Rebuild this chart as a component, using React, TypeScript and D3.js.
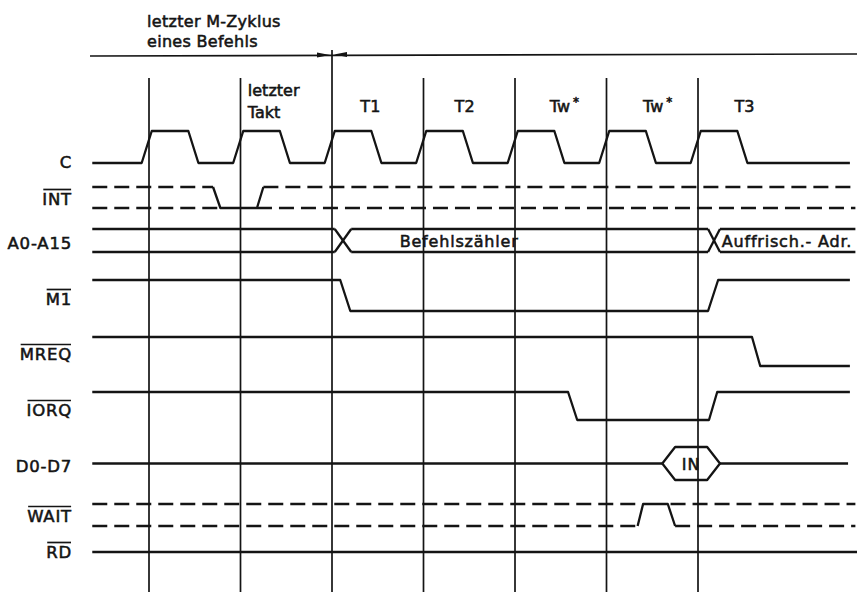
import React, { useEffect, useRef } from "react";
import * as d3 from "d3";

const width = 857;
const height = 592;

// time in clock periods, 0 = first marked clock edge
const cycleMarks = [0, 1, 2, 3, 4, 5, 6];
const cycleNames = [
  { t: 1.08, lines: ["letzter", "Takt"] },
  { t: 2.31, lines: ["T1"] },
  { t: 3.34, lines: ["T2"] },
  { t: 4.38, lines: ["Tw*"] },
  { t: 5.4, lines: ["Tw*"] },
  { t: 6.4, lines: ["T3"] },
];
const titleLines = ["letzter M-Zyklus", "eines Befehls"];

const signalNames = ["C", "INT", "A0-A15", "M1", "MREQ", "IORQ", "D0-D7", "WAIT", "RD"];
const activeLow = ["INT", "M1", "MREQ", "IORQ", "WAIT", "RD"];

// [t, level]
const clockWave = [
  [-0.62, 0], [-0.08, 0], [0.03, 1], [0.43, 1], [0.54, 0],
  [0.92, 0], [1.03, 1], [1.43, 1], [1.54, 0],
  [1.92, 0], [2.03, 1], [2.43, 1], [2.54, 0],
  [2.92, 0], [3.03, 1], [3.43, 1], [3.54, 0],
  [3.92, 0], [4.03, 1], [4.43, 1], [4.54, 0],
  [4.92, 0], [5.03, 1], [5.43, 1], [5.54, 0],
  [5.92, 0], [6.03, 1], [6.43, 1], [6.54, 0], [7.66, 0],
];
const m1Wave = [[-0.62, 1], [2.09, 1], [2.2, 0], [6.11, 0], [6.22, 1], [7.66, 1]];
const mreqWave = [[-0.62, 1], [6.59, 1], [6.68, 0], [7.66, 0]];
const iorqWave = [[-0.62, 1], [4.58, 1], [4.68, 0], [6.12, 0], [6.21, 1], [7.66, 1]];
const rdWave = [[-0.62, 1], [7.74, 1]];

// undefined (dashed) states
const intDashHigh = [[-0.62, 0.7], [1.25, 7.72]];
const intDashLow = [[-0.62, 0.78], [1.18, 7.72]];
const intSolid = [[0.7, 1], [0.78, 0], [1.18, 0], [1.25, 1]];
const waitDashHigh = [[-0.62, 5.38], [5.7, 7.72]];
const waitDashLow = [[-0.62, 5.34], [5.75, 7.72]];
const waitSolid = [[5.34, 0], [5.4, 1], [5.67, 1], [5.75, 0]];

// buses
const addrSegments = [
  { from: -0.62, to: 2.03, label: "", labelT: 0 },
  { from: 2.21, to: 6.11, label: "Befehlszähler", labelT: 2.74 },
  { from: 6.24, to: 7.72, label: "Auffrisch.- Adr.", labelT: 6.26 },
];
const dataIdle = [[-0.62, 5.61], [6.24, 7.64]];
const dataValid = [{ from: 5.61, to: 6.24, label: "IN" }];

const App = () => {
  const svgRef = useRef(null);

  useEffect(() => {
    const svg = d3.select(svgRef.current);
    svg.selectAll("*").remove();

    const ink = "#141414";
    const font = "'DejaVu Sans', sans-serif";
    const x = d3.scaleLinear().domain([0, 6]).range([149, 698]);

    // row layout: [high, low] in pixels
    const rows = {
      C: [131, 163],
      INT: [187, 208],
      "A0-A15": [229, 252],
      M1: [280, 311],
      MREQ: [337, 366],
      IORQ: [392, 420],
      "D0-D7": [447, 480],
      WAIT: [504, 526],
      RD: [552, 552],
    };
    const labelBase = {
      C: 168, INT: 205, "A0-A15": 249, M1: 305, MREQ: 360,
      IORQ: 416, "D0-D7": 472, WAIT: 522, RD: 558,
    };
    const lvl = (name) => d3.scaleLinear().domain([0, 1]).range([rows[name][1], rows[name][0]]);

    const addText = (sel) =>
      sel
        .attr("font-family", font)
        .attr("fill", ink)
        .attr("stroke", ink)
        .attr("stroke-width", 0.55);

    svg.append("rect").attr("width", width).attr("height", height).attr("fill", "#fff");

    // cycle boundaries
    svg.append("g")
      .selectAll("line")
      .data(cycleMarks)
      .join("line")
      .attr("x1", (d) => x(d))
      .attr("x2", (d) => x(d))
      .attr("y1", (d) => (d === 2 ? 50 : 78))
      .attr("y2", height)
      .attr("stroke", ink)
      .attr("stroke-width", 1.7);

    // bracket line with arrows
    svg.append("line")
      .attr("x1", 90).attr("x2", width)
      .attr("y1", 56).attr("y2", 54)
      .attr("stroke", ink).attr("stroke-width", 1.7);
    const xa = x(2);
    svg.append("path")
      .attr("d", `M${xa - 15},52.5 L${xa - 2},55 L${xa - 15},57.5 Z M${xa + 15},52 L${xa + 2},54.5 L${xa + 15},57 Z`)
      .attr("fill", ink);

    // title
    addText(
      svg.append("g")
        .selectAll("text")
        .data(titleLines)
        .join("text")
        .attr("x", 147)
        .attr("y", (d, i) => 27 + i * 20)
        .attr("font-size", 16)
        .attr("letter-spacing", 0.3)
        .text((d) => d)
    );

    // cycle names
    cycleNames.forEach((c) => {
      c.lines.forEach((ln, i) => {
        const yy = c.lines.length > 1 ? 96 + i * 22 : 112;
        const txt = addText(
          svg.append("text")
            .attr("x", x(c.t))
            .attr("y", yy)
            .attr("font-size", 16)
        );
        if (ln.endsWith("*")) {
          txt.append("tspan").text(ln.slice(0, -1));
          txt.append("tspan").attr("dy", -6).attr("dx", 3).attr("font-size", 12).text("*");
        } else {
          txt.text(ln);
        }
      });
    });

    // signal labels
    signalNames.forEach((name) => {
      const t = addText(
        svg.append("text")
          .attr("x", 72)
          .attr("y", labelBase[name])
          .attr("text-anchor", "end")
          .attr("font-size", 16.5)
          .attr("letter-spacing", 0.8)
          .text(name)
      );
      if (activeLow.includes(name)) {
        const bb = t.node().getBBox();
        svg.append("line")
          .attr("x1", bb.x + 1).attr("x2", bb.x + bb.width - 1)
          .attr("y1", labelBase[name] - 15.5).attr("y2", labelBase[name] - 15.5)
          .attr("stroke", ink).attr("stroke-width", 1.7);
      }
    });

    const wave = (name, pts, dashed = false) => {
      const y = lvl(name);
      svg.append("path")
        .attr("d", d3.line().x((d) => x(d[0])).y((d) => y(d[1]))(pts))
        .attr("fill", "none")
        .attr("stroke", ink)
        .attr("stroke-width", 2.3)
        .attr("stroke-linejoin", "round")
        .attr("stroke-dasharray", dashed ? "15,7" : null);
    };

    wave("C", clockWave);
    wave("M1", m1Wave);
    wave("MREQ", mreqWave);
    wave("IORQ", iorqWave);
    wave("RD", rdWave);

    intDashHigh.forEach((s) => wave("INT", [[s[0], 1], [s[1], 1]], true));
    intDashLow.forEach((s) => wave("INT", [[s[0], 0], [s[1], 0]], true));
    wave("INT", intSolid);
    waitDashHigh.forEach((s) => wave("WAIT", [[s[0], 1], [s[1], 1]], true));
    waitDashLow.forEach((s) => wave("WAIT", [[s[0], 0], [s[1], 0]], true));
    wave("WAIT", waitSolid);

    // address bus with crossings
    addrSegments.forEach((s, i) => {
      wave("A0-A15", [[s.from, 1], [s.to, 1]]);
      wave("A0-A15", [[s.from, 0], [s.to, 0]]);
      const next = addrSegments[i + 1];
      if (next) {
        wave("A0-A15", [[s.to, 1], [next.from, 0]]);
        wave("A0-A15", [[s.to, 0], [next.from, 1]]);
      }
      if (s.label) {
        addText(
          svg.append("text")
            .attr("x", x(s.labelT))
            .attr("y", 247)
            .attr("font-size", 16)
            .attr("letter-spacing", 0.8)
            .text(s.label)
        );
      }
    });

    // data bus
    const dy = lvl("D0-D7");
    dataIdle.forEach((s) => wave("D0-D7", [[s[0], 0.5], [s[1], 0.5]]));
    dataValid.forEach((s) => {
      const sh = 0.14;
      wave("D0-D7", [
        [s.from, 0.5], [s.from + sh, 1], [s.to - sh, 1], [s.to, 0.5],
        [s.to - sh, 0], [s.from + sh, 0], [s.from, 0.5],
      ]);
      addText(
        svg.append("text")
          .attr("x", x((s.from + s.to) / 2))
          .attr("y", dy(0.5) + 6)
          .attr("text-anchor", "middle")
          .attr("font-size", 16)
          .attr("letter-spacing", 1)
          .text(s.label)
      );
    });
  }, []);

  return (
    <svg
      ref={svgRef}
      width={width}
      height={height}
      style={{ position: "absolute", left: 0, top: 0, display: "block" }}
    />
  );
};

export default App;
